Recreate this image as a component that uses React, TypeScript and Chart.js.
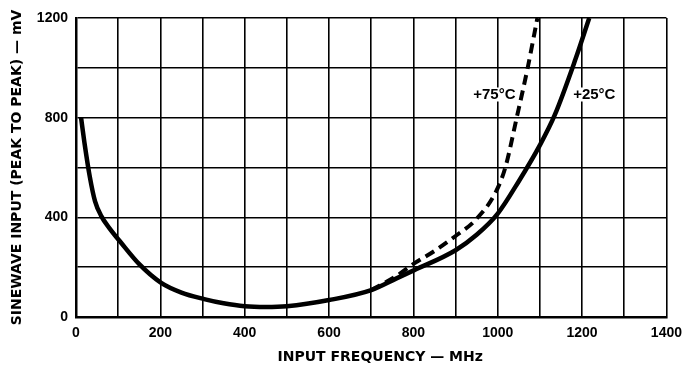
import React, { useEffect, useRef } from "react";
import { Chart, registerables } from "chart.js";

Chart.register(...registerables);

const freq25 = [12, 20, 33, 45, 60, 80, 105, 150, 201, 250, 304, 350, 400, 450, 500, 600, 700, 760, 802, 900, 950, 1000, 1050, 1100, 1135, 1184, 1217];
const mv25 = [800, 700, 560, 465, 405, 355, 302, 212, 138, 98, 72, 55, 43, 40, 43, 68, 108, 155, 188, 268, 330, 415, 545, 690, 810, 1033, 1200];

const freq75 = [700, 760, 802, 850, 900, 947, 994, 1018, 1045, 1071, 1094];
const mv75 = [108, 165, 215, 265, 325, 389, 497, 600, 800, 1000, 1200];

const xTicks = [0, 200, 400, 600, 800, 1000, 1200, 1400];
const yTicks = [0, 400, 800, 1200];

const curveLabels = ["+75°C", "+25°C"];
const labelX = [992, 1229];
const labelY = [893, 893];

const xTitle = "INPUT FREQUENCY — MHz";
const yTitle = "SINEWAVE INPUT (PEAK TO PEAK) — mV";

const FONT = "'Liberation Sans', Arial, sans-serif";
const TITLE_FONT = "'DejaVu Sans', sans-serif";

export default function App() {
  const ref = useRef<HTMLCanvasElement | null>(null);
  useEffect(() => {
    if (!ref.current) return;
    const labelPlugin = {
      id: "curveLabels",
      afterDatasetsDraw(chart: any) {
        const ctx = chart.ctx;
        const xs = chart.scales.x;
        const ys = chart.scales.y;
        ctx.save();
        ctx.font = `bold 15px ${FONT}`;
        ctx.textAlign = "center";
        ctx.textBaseline = "middle";
        curveLabels.forEach((t, i) => {
          const px = xs.getPixelForValue(labelX[i]);
          const py = ys.getPixelForValue(labelY[i]);
          const w = ctx.measureText(t).width;
          ctx.fillStyle = "#fff";
          ctx.fillRect(px - w / 2 - 1, py - 7, w + 2, 14);
          ctx.fillStyle = "#000";
          ctx.fillText(t, px, py);
        });
        // x axis title, slightly right of centre as in the original
        const ca = chart.chartArea;
        ctx.font = `bold 14px ${TITLE_FONT}`;
        ctx.fillText(xTitle, (ca.left + ca.right) / 2 + 9, chart.height - 8);
        ctx.restore();
      },
    };
    const chart = new Chart(ref.current, {
      type: "scatter",
      data: {
        datasets: [
          {
            label: "+25°C",
            data: freq25.map((x, i) => ({ x, y: mv25[i] })),
            showLine: true,
            borderColor: "#000",
            borderWidth: 4.5,
            pointRadius: 0,
            cubicInterpolationMode: "monotone",
          },
          {
            label: "+75°C",
            data: freq75.map((x, i) => ({ x, y: mv75[i] })),
            showLine: true,
            borderColor: "#000",
            borderWidth: 4,
            borderDash: [10, 6],
            pointRadius: 0,
            cubicInterpolationMode: "monotone",
          },
        ],
      },
      options: {
        animation: false,
        responsive: false,
        layout: { padding: { top: 18, right: 17, left: 0, bottom: 0 } },
        plugins: { legend: { display: false }, tooltip: { enabled: false } },
        scales: {
          x: {
            type: "linear",
            min: 0,
            max: 1400,
            afterFit: (s: any) => { s.height = 48; },
            afterBuildTicks: (s: any) => {
              const t = [];
              for (let v = 0; v <= 1400; v += 100) t.push({ value: v });
              s.ticks = t;
            },
            ticks: {
              autoSkip: false,
              maxRotation: 0,
              padding: 8,
              color: "#000",
              font: { family: FONT, size: 14, weight: "bold" },
              callback: (v: any) => (xTicks.includes(Number(v)) ? String(v) : ""),
            },
            grid: { color: "#000", lineWidth: 1.6, drawTicks: false },
            border: { color: "#000", width: 2.5 },
            title: { display: false },
          },
          y: {
            type: "linear",
            min: 0,
            max: 1200,
            afterFit: (s: any) => { s.width = 76; },
            afterBuildTicks: (s: any) => {
              const t = [];
              for (let v = 0; v <= 1200; v += 200) t.push({ value: v });
              s.ticks = t;
            },
            ticks: {
              autoSkip: false,
              padding: 8,
              color: "#000",
              font: { family: FONT, size: 14, weight: "bold" },
              callback: (v: any) => (yTicks.includes(Number(v)) ? String(v) : ""),
            },
            grid: { color: "#000", lineWidth: 1.6, drawTicks: false },
            border: { color: "#000", width: 2.5 },
            title: {
              display: true,
              text: yTitle,
              color: "#000",
              font: { family: TITLE_FONT, size: 14, weight: "bold" },
              padding: { top: 9, bottom: 4 },
            },
          },
        },
      },
      plugins: [labelPlugin],
    } as any);
    return () => chart.destroy();
  }, []);
  return (
    <div style={{ position: "absolute", left: 0, top: 0, width: 690, height: 365, background: "#fff" }}>
      <canvas ref={ref} width={690} height={365} />
    </div>
  );
}
